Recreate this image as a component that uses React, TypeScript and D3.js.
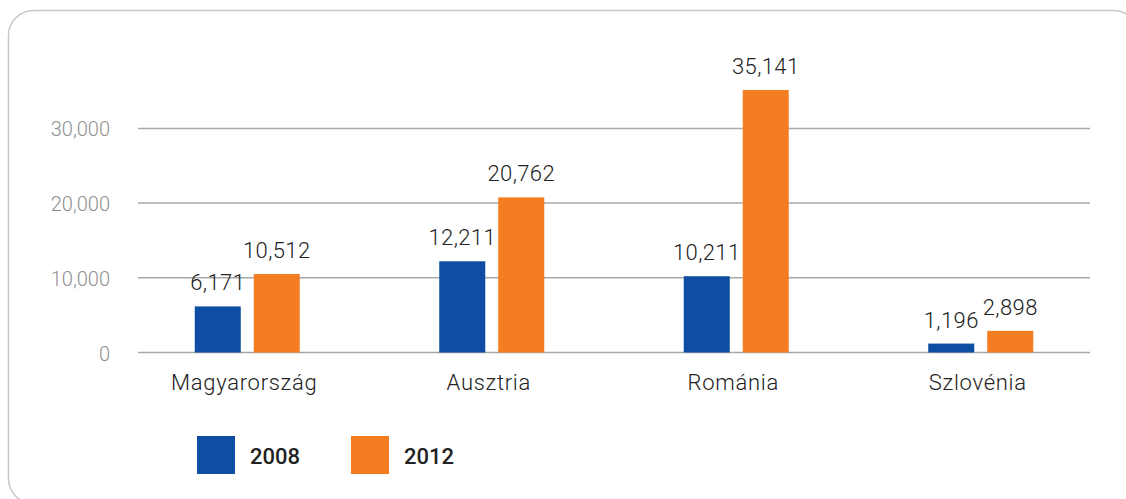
import React from "react";
import * as d3 from "d3";

const categories = ["Magyarország", "Ausztria", "Románia", "Szlovénia"];
const seriesNames = ["2008", "2012"];
const values2008 = [6171, 12211, 10211, 1196];
const values2012 = [10512, 20762, 35141, 2898];
const yTicks = [0, 10000, 20000, 30000];
const colors = ["#0d4ea3", "#f47d22"];

const W = 1126;
const H = 499;
const FONT = "Roboto, 'Noto Sans', sans-serif";

export default function App() {
  const x = d3.scaleBand<string>().domain(categories).range([125, 1103]).paddingInner(0).paddingOuter(0);
  const y = d3.scaleLinear().domain([0, 10000]).range([352.5, 277.8]);
  const sub = d3.scaleBand<string>().domain(seriesNames).range([-52.5, 52.5]).paddingInner(0.22).paddingOuter(0);
  const fmt = d3.format(",");
  const series = [values2008, values2012];

  return (
    <svg width={W} height={H} style={{ position: "absolute", left: 0, top: 0, display: "block" }}>
      <rect x={8.5} y={10.5} width={1130} height={493} rx={25} ry={25} fill="#fff" stroke="#c8c8c8" strokeWidth={1.5} />
      {yTicks.map((t) => (
        <g key={t}>
          <line x1={138} x2={1090} y1={y(t)} y2={y(t)} stroke="#a8a8a8" strokeWidth={1.5} />
          <text x={110} y={y(t)} dy={8} textAnchor="end" fontFamily={FONT} fontSize={20} fontWeight={300} fill="#8f8f8f">
            {fmt(t)}
          </text>
        </g>
      ))}
      {categories.map((c, i) => {
        const cx = (x(c) as number) + x.bandwidth() / 2;
        return (
          <g key={c}>
            {series.map((vals, s) => {
              const bx = cx + (sub(seriesNames[s]) as number);
              const bw = sub.bandwidth();
              return (
                <g key={s}>
                  <rect x={bx} y={y(vals[i])} width={bw} height={y(0) - y(vals[i])} fill={colors[s]} />
                  <text x={bx + bw / 2} y={y(vals[i]) - 16} textAnchor="middle" fontFamily={FONT} fontSize={22} fontWeight={300} letterSpacing={0.4} fill="#222">
                    {fmt(vals[i])}
                  </text>
                </g>
              );
            })}
            <text x={cx - 3} y={390} textAnchor="middle" fontFamily={FONT} fontSize={22} fontWeight={300} letterSpacing={0.7} fill="#222">
              {c}
            </text>
          </g>
        );
      })}
      {seriesNames.map((n, s) => (
        <g key={n} transform={`translate(${197 + s * 154},436)`}>
          <rect x={0} y={0} width={38} height={38} fill={colors[s]} />
          <text x={53} y={28} fontFamily={FONT} fontSize={22} fontWeight={500} fill="#222">
            {n}
          </text>
        </g>
      ))}
    </svg>
  );
}
